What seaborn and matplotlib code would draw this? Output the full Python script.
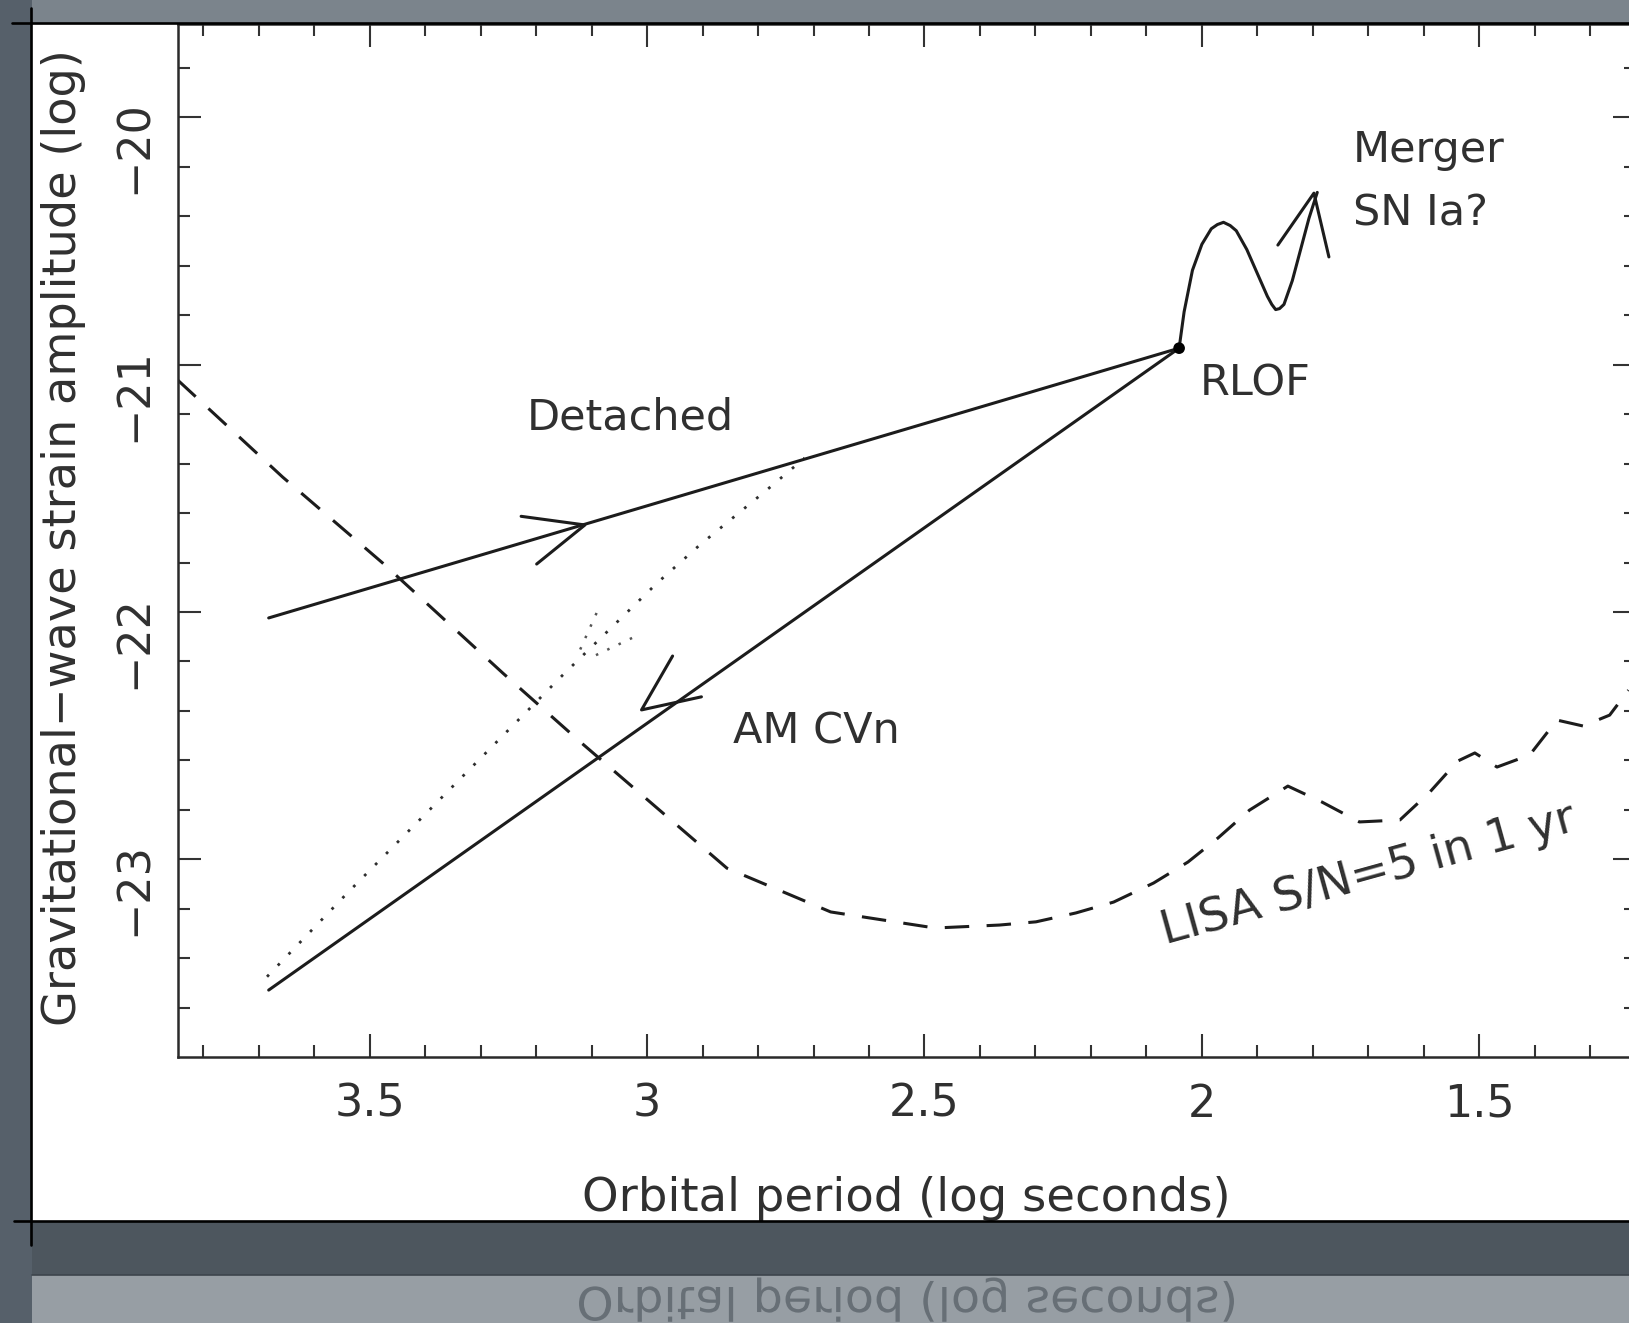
import matplotlib
matplotlib.use("Agg")
import matplotlib.pyplot as plt
import seaborn as sns
from matplotlib.patches import Rectangle, PathPatch
from matplotlib.lines import Line2D
from matplotlib.textpath import TextPath
from matplotlib.font_manager import FontProperties
from matplotlib.transforms import Affine2D
from matplotlib.ticker import MultipleLocator, FuncFormatter

# ---------------- data (log P [s], log h) ----------------
detached_x = [3.682, 2.041]
detached_y = [-22.024, -20.933]

amcvn_x = [2.041, 3.682]
amcvn_y = [-20.933, -23.529]

dotted_x = [3.685, 3.540, 3.152, 2.982, 2.905, 2.784, 2.716]
dotted_y = [-23.475, -23.136, -22.255, -21.883, -21.729, -21.506, -21.377]
dotted_extra1_x = [3.091, 3.125]
dotted_extra1_y = [-22.004, -22.174]
dotted_extra2_x = [3.027, 3.103]
dotted_extra2_y = [-22.105, -22.186]

merger_x = [2.041, 2.032, 2.017, 2.000, 1.983, 1.972, 1.961, 1.949, 1.938,
            1.919, 1.901, 1.882, 1.874, 1.867, 1.860, 1.852, 1.837, 1.822,
            1.807, 1.792]
merger_y = [-20.933, -20.786, -20.618, -20.513, -20.450, -20.433, -20.424,
            -20.437, -20.458, -20.534, -20.626, -20.723, -20.756, -20.777,
            -20.773, -20.756, -20.660, -20.534, -20.408, -20.303]

lisa_x = [3.846, 3.657, 3.476, 3.260, 3.118, 2.856, 2.669, 2.481, 2.365,
          2.299, 2.227, 2.159, 2.087, 2.025, 1.971, 1.914, 1.845, 1.784,
          1.716, 1.643, 1.589, 1.539, 1.508, 1.468, 1.409, 1.360, 1.313,
          1.265, 1.231]
lisa_y = [-21.062, -21.454, -21.803, -22.247, -22.530, -23.036, -23.213,
          -23.278, -23.266, -23.253, -23.217, -23.173, -23.096, -23.011,
          -22.914, -22.801, -22.704, -22.768, -22.849, -22.841, -22.728,
          -22.603, -22.570, -22.627, -22.578, -22.437, -22.461, -22.417,
          -22.316]

# arrowheads: barb, tip, barb
arrow_det_x = [3.227, 3.112, 3.199]
arrow_det_y = [-21.613, -21.648, -21.806]
arrow_am_x = [2.954, 3.010, 2.902]
arrow_am_y = [-22.178, -22.396, -22.343]
arrow_mg_x = [1.863, 1.798, 1.771]
arrow_mg_y = [-20.516, -20.306, -20.564]

rlof_x = [2.041]
rlof_y = [-20.933]

# ---------------- figure ----------------
sns.set_theme(style="ticks")
plt.rcParams['font.family'] = ['DejaVu Sans']

W, H = 1629, 1323
fig = plt.figure(figsize=(W / 100, H / 100), dpi=100)
fig.patch.set_facecolor('#6b757e')


def px_rect(x0, y0, x1, y1, color, z=-3):
    fig.add_artist(Rectangle((x0 / W, 1 - y1 / H), (x1 - x0) / W, (y1 - y0) / H,
                             transform=fig.transFigure, facecolor=color,
                             edgecolor='none', zorder=z))


def px_line(x0, y0, x1, y1, lw=1.8, color='black', z=5):
    fig.add_artist(Line2D([x0 / W, x1 / W], [1 - y0 / H, 1 - y1 / H],
                          transform=fig.transFigure, color=color, lw=lw, zorder=z))


# slide background pieces
px_rect(0, 0, W, 23, '#7b848c')
px_rect(0, 0, 32, H, '#56606a')
px_rect(32, 1221, W, 1275, '#4d565e')
px_rect(32, 1275, W, H, '#979ea4')
px_rect(32, 23, W, 1221, 'white', z=-2)
px_line(32, 1275, W, 1275, lw=1.2, color='#3d454c', z=-1)

# axes
ax_l, ax_r, ax_t, ax_b = 177.7, 1636.0, 24.0, 1056.6
ax = fig.add_axes([ax_l / W, 1 - ax_b / H, (ax_r - ax_l) / W, (ax_b - ax_t) / H])
ax.set_facecolor('white')
ax.set_xlim(3.846, 1.2175)
ax.set_ylim(-23.798, -19.622)

line_col = '#1c1c1c'
sns.lineplot(x=lisa_x, y=lisa_y, ax=ax, sort=False, estimator=None,
             color=line_col, lw=2.2, linestyle=(0, (8, 5.7)))
sns.lineplot(x=dotted_x, y=dotted_y, ax=ax, sort=False, estimator=None,
             color='#2e2e2e', lw=2.0, linestyle=(0, (1.0, 4.6)))
for xs, ys in [(dotted_extra1_x, dotted_extra1_y), (dotted_extra2_x, dotted_extra2_y)]:
    sns.lineplot(x=xs, y=ys, ax=ax, sort=False, estimator=None,
                 color='#555555', lw=1.8, linestyle=(0, (1.0, 4.0)))
for xs, ys in [(detached_x, detached_y), (amcvn_x, amcvn_y), (merger_x, merger_y),
               (arrow_det_x, arrow_det_y), (arrow_am_x, arrow_am_y),
               (arrow_mg_x, arrow_mg_y)]:
    sns.lineplot(x=xs, y=ys, ax=ax, sort=False, estimator=None,
                 color=line_col, lw=2.2, solid_joinstyle='round',
                 solid_capstyle='round')
sns.scatterplot(x=rlof_x, y=rlof_y, ax=ax, color='black', s=70,
                edgecolor='none', zorder=5)

# ticks
ax.xaxis.set_major_locator(MultipleLocator(0.5))
ax.xaxis.set_minor_locator(MultipleLocator(0.1))
ax.yaxis.set_major_locator(MultipleLocator(1.0))
ax.yaxis.set_minor_locator(MultipleLocator(0.2))
ax.xaxis.set_major_formatter(FuncFormatter(lambda v, p: f"{v:g}"))
ax.yaxis.set_major_formatter(FuncFormatter(lambda v, p: f"{v:g}".replace('-', '\u2212')))
ax.tick_params(which='both', direction='in', top=True, right=True,
               color='#333333', width=1.5, labelcolor='#303030')
ax.tick_params(which='major', length=16.5)
ax.tick_params(which='minor', length=8.5)
ax.tick_params(axis='x', pad=19, labelsize=32)
ax.tick_params(axis='y', pad=16, labelsize=32, labelrotation=90)
for s in ax.spines.values():
    s.set_linewidth(1.8)
    s.set_color('#2a2a2a')

ax.set_xlabel("Orbital period (log seconds)", fontsize=33.5, color='#303030')
ax.xaxis.set_label_coords(0.4994, -0.1156)
ax.set_ylabel("Gravitational\u2212wave strain amplitude (log)", fontsize=33.3,
              color='#303030')
ax.yaxis.set_label_coords(-0.063, 0.5027)

# annotations
tcol = '#303030'
ax.text(3.217, -21.260, "Detached", fontsize=31, color=tcol, ha='left', va='baseline')
ax.text(2.845, -22.530, "AM CVn", fontsize=31, color=tcol, ha='left', va='baseline')
ax.text(2.004, -21.123, "RLOF", fontsize=31, color=tcol, ha='left', va='baseline')
ax.text(1.728, -20.179, "Merger", fontsize=31, color=tcol, ha='left', va='baseline')
ax.text(1.728, -20.435, "SN Ia?", fontsize=31, color=tcol, ha='left', va='baseline')
ax.text(2.065, -23.345, "LISA S/N=5 in 1 yr", fontsize=33.5, color=tcol,
        ha='left', va='baseline', rotation=15.5, rotation_mode='anchor')

# slide crop marks
px_line(12, 23, W, 23, lw=1.9)
px_line(31, 8, 31, 1245, lw=1.9)
px_line(14, 1221, W, 1221, lw=1.9)

# mirrored reflection of the x label at the bottom of the slide
tp = TextPath((0, 0), "Orbital period (log seconds)", size=45.8,
              prop=FontProperties(family='DejaVu Sans'))
ext = tp.get_extents()
sx = 655.0 / ext.width
refl = PathPatch(tp, transform=Affine2D().translate(-ext.x0, 0).scale(sx, -1).translate(579, H - 1287),
                 facecolor='#5f676e', edgecolor='none', alpha=0.85, zorder=1)
fig.add_artist(refl)

fig.savefig("out.png", dpi=100, facecolor=fig.get_facecolor())
